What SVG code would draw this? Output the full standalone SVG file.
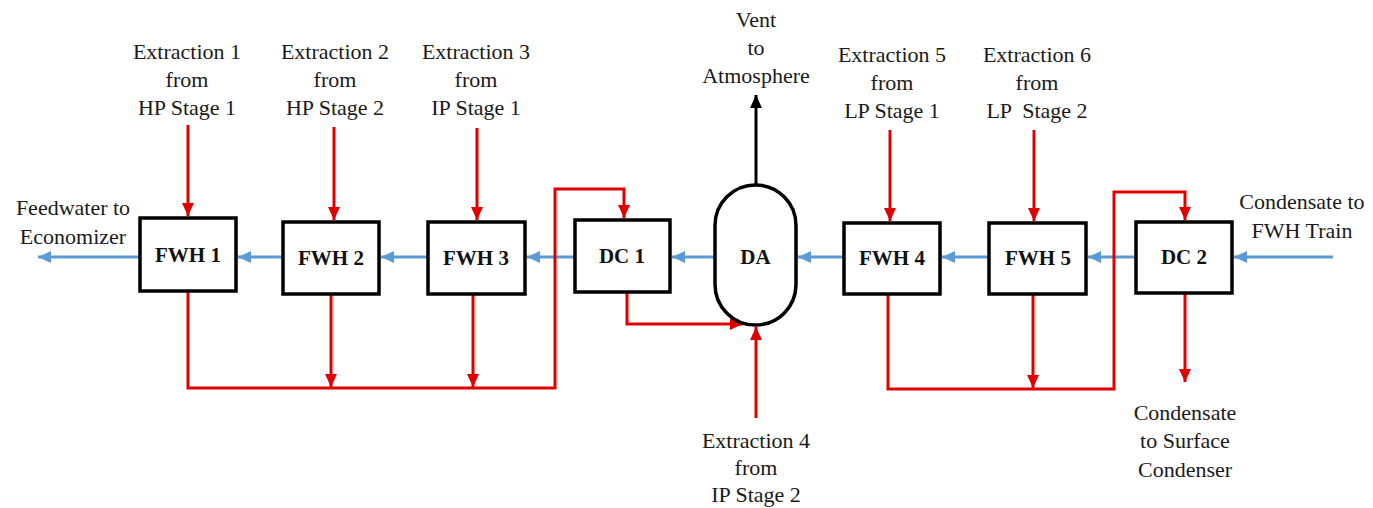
<svg xmlns="http://www.w3.org/2000/svg" width="1373" height="508" viewBox="0 0 1373 508">
<style>
.lbl{font-family:"Liberation Serif","Times New Roman",serif;font-size:22px;fill:#1a1a1a;text-anchor:middle}
.nl{font-family:"Liberation Serif","Times New Roman",serif;font-size:21px;font-weight:bold;fill:#111;text-anchor:middle}
.box{fill:#fff;stroke:#000;stroke-width:3.5}
.blue{fill:none;stroke:#5b9bd5;stroke-width:3;marker-end:url(#ab)}
.red{fill:none;stroke:#e00000;stroke-width:3;marker-end:url(#ar)}
.redn{fill:none;stroke:#e00000;stroke-width:3}
.blk{fill:none;stroke:#000;stroke-width:3;marker-end:url(#ak)}
</style>
<defs>
<marker id="ab" markerUnits="userSpaceOnUse" markerWidth="14" markerHeight="12" refX="13" refY="6" orient="auto"><path d="M0,0 L13,6 L0,12 Z" fill="#5b9bd5"/></marker>
<marker id="ar" markerUnits="userSpaceOnUse" markerWidth="14" markerHeight="12" refX="13" refY="6" orient="auto"><path d="M0,0 L13,6 L0,12 Z" fill="#e00000"/></marker>
<marker id="ak" markerUnits="userSpaceOnUse" markerWidth="14" markerHeight="12" refX="13" refY="6" orient="auto"><path d="M0,0 L13,6 L0,12 Z" fill="#000"/></marker>
</defs>
<rect width="1373" height="508" fill="#fff"/>
<g id="connectors">
<!-- feedwater (blue) -->
<line class="blue" x1="1333" y1="257" x2="1234" y2="257"/>
<line class="blue" x1="1136" y1="257" x2="1088" y2="257"/>
<line class="blue" x1="989" y1="257" x2="942" y2="257"/>
<line class="blue" x1="844" y1="257" x2="798" y2="257"/>
<line class="blue" x1="715" y1="257" x2="672" y2="257"/>
<line class="blue" x1="575" y1="257" x2="527" y2="257"/>
<line class="blue" x1="428" y1="257" x2="381" y2="257"/>
<line class="blue" x1="283" y1="257" x2="238" y2="257"/>
<line class="blue" x1="140" y1="257" x2="38" y2="257"/>
<!-- extractions -->
<line class="red" x1="188" y1="125" x2="188" y2="216"/>
<line class="red" x1="334" y1="127" x2="334" y2="220"/>
<line class="red" x1="477" y1="128" x2="477" y2="220"/>
<line class="red" x1="890" y1="130" x2="890" y2="221"/>
<line class="red" x1="1034" y1="130" x2="1034" y2="221"/>
<line class="red" x1="756" y1="418" x2="756" y2="327"/>
<!-- drains -->
<path class="red" d="M188,292 V388 H555 V189 H624 V218"/>
<line class="red" x1="331" y1="295" x2="331" y2="387"/>
<line class="red" x1="473" y1="295" x2="473" y2="387"/>
<path class="red" d="M627,293 V324 H743"/>
<path class="red" d="M888,295 V389 H1114 V192 H1185 V220"/>
<line class="red" x1="1033" y1="295" x2="1033" y2="388"/>
<line class="red" x1="1185" y1="294" x2="1185" y2="382"/>
<!-- vent -->
<line class="blk" x1="756" y1="185" x2="756" y2="95"/>
</g>
<g id="fwh1"><rect class="box" x="140" y="218" width="96" height="73"/><text class="nl" x="188" y="262">FWH 1</text></g>
<g id="fwh2"><rect class="box" x="283" y="222" width="96" height="72"/><text class="nl" x="331" y="265">FWH 2</text></g>
<g id="fwh3"><rect class="box" x="428" y="222" width="97" height="72"/><text class="nl" x="476" y="265">FWH 3</text></g>
<g id="dc1"><rect class="box" x="575" y="220" width="95" height="72"/><text class="nl" x="622" y="263">DC 1</text></g>
<g id="da"><rect class="box" x="715" y="185" width="81" height="140" rx="40.5" ry="40.5"/><text class="nl" x="755.5" y="264">DA</text></g>
<g id="fwh4"><rect class="box" x="844" y="223" width="96" height="71"/><text class="nl" x="892" y="265">FWH 4</text></g>
<g id="fwh5"><rect class="box" x="989" y="223" width="97" height="71"/><text class="nl" x="1038" y="265">FWH 5</text></g>
<g id="dc2"><rect class="box" x="1136" y="222" width="96" height="71"/><text class="nl" x="1184" y="264">DC 2</text></g>
<g id="labels">
<text class="lbl" x="187" y="59">Extraction 1</text><text class="lbl" x="187" y="87">from</text><text class="lbl" x="187" y="115">HP Stage 1</text>
<text class="lbl" x="335" y="59">Extraction 2</text><text class="lbl" x="335" y="87">from</text><text class="lbl" x="335" y="115">HP Stage 2</text>
<text class="lbl" x="476" y="59">Extraction 3</text><text class="lbl" x="476" y="87">from</text><text class="lbl" x="476" y="115">IP Stage 1</text>
<text class="lbl" x="756" y="27">Vent</text><text class="lbl" x="756" y="55">to</text><text class="lbl" x="756" y="83">Atmosphere</text>
<text class="lbl" x="892" y="62">Extraction 5</text><text class="lbl" x="892" y="90">from</text><text class="lbl" x="892" y="118">LP Stage 1</text>
<text class="lbl" x="1037" y="62">Extraction 6</text><text class="lbl" x="1037" y="90">from</text><text class="lbl" x="1037" y="118" xml:space="preserve">LP  Stage 2</text>
<text class="lbl" x="73" y="215">Feedwater to</text><text class="lbl" x="73" y="244">Economizer</text>
<text class="lbl" x="1302" y="209">Condensate to</text><text class="lbl" x="1302" y="238">FWH Train</text>
<text class="lbl" x="1185" y="420">Condensate</text><text class="lbl" x="1185" y="448">to Surface</text><text class="lbl" x="1185" y="477">Condenser</text>
<text class="lbl" x="756" y="448">Extraction 4</text><text class="lbl" x="756" y="475">from</text><text class="lbl" x="756" y="502">IP Stage 2</text>
</g>
</svg>
